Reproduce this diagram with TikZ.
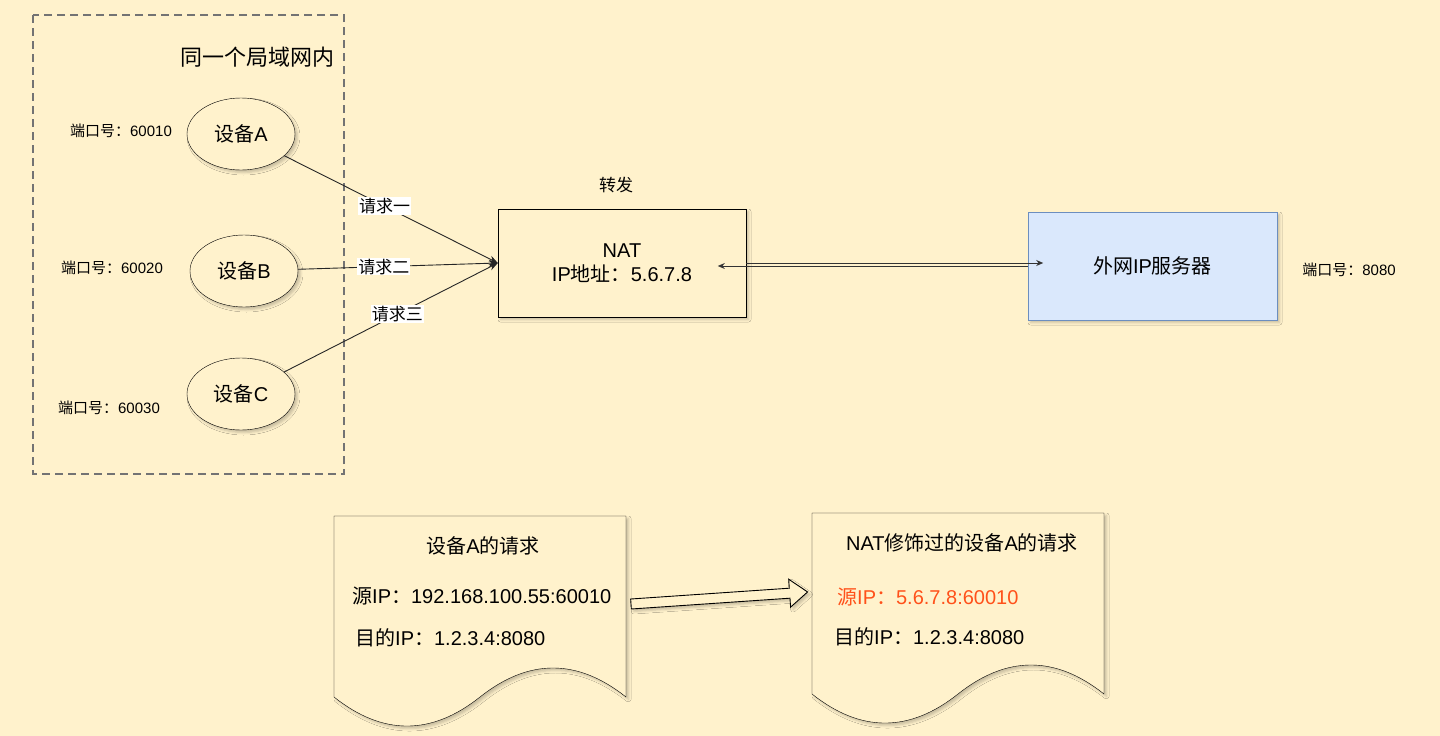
\documentclass[tikz,border=0pt]{standalone}
\usepackage{fontspec}
\setmainfont{Liberation Sans}
\newfontfamily\cjk{Noto Sans CJK SC}
\usetikzlibrary{shapes.geometric,arrows.meta,shadows.blur}
\definecolor{bgyellow}{RGB}{255,242,204}
\definecolor{srvfill}{RGB}{218,232,252}
\definecolor{srvline}{RGB}{108,142,191}
\definecolor{srcred}{RGB}{255,81,26}
\tikzset{
  shd/.style={blur shadow={shadow xshift=2.5pt,shadow yshift=-2.5pt,shadow blur radius=2.5pt,shadow opacity=22}},
  dev/.style={ellipse,draw,fill=bgyellow,shd,minimum width=108pt,minimum height=72pt,inner sep=0pt,font=\fontsize{20}{24}\selectfont},
  port/.style={font=\fontsize{15}{18}\selectfont},
  req/.style={draw=black!85,line width=0.9pt,-{Stealth[length=9pt,width=7pt]}},
  reqlbl/.style={fill=white,inner sep=1pt,font=\fontsize{17}{20}\selectfont},
  link/.style={draw=black!80,line width=0.9pt,-{Stealth[length=7pt,width=6pt]}},
  natbox/.style={draw,fill=bgyellow,shd,minimum width=248pt,minimum height=108pt,align=center,font=\fontsize{20}{24}\selectfont},
  srvbox/.style={draw=srvline,fill=srvfill,shd,minimum width=249pt,minimum height=108pt,font=\fontsize{20}{24}\selectfont},
  doctxt/.style={inner sep=0pt,font=\fontsize{20}{24}\selectfont},
  docpage/.pic={
    \draw[fill=bgyellow,shd] (0,0) -- (292,0) -- (292,181)
      .. controls (243.3,142.3) and (194.7,142.3) .. (146,181)
      .. controls (97.3,219.7) and (48.7,219.7) .. (0,181) -- cycle;
  }
}
\begin{document}
\begin{tikzpicture}[x=1pt,y=-1pt]
% 背景
\fill[bgyellow] (0,0) rectangle (1440,736);
\useasboundingbox (0,0) rectangle (1440,736);
% 局域网
\draw[black!55,line width=1.1pt,dash pattern=on 8pt off 5pt] (33,15) rectangle (344,474);
\node[font=\fontsize{22}{26}\selectfont] (lan) at (257,57) {\cjk 同一个局域网内};
% 设备
\node[dev] (devA) at (241,134) {{\cjk 设备}A};
\node[dev] (devB) at (244,271) {{\cjk 设备}B};
\node[dev] (devC) at (241,394) {{\cjk 设备}C};
\node[port] (portA) at (121,131) {{\cjk 端口号：}60010};
\node[port] (portB) at (112,268) {{\cjk 端口号：}60020};
\node[port] (portC) at (109,408) {{\cjk 端口号：}60030};
% NAT
\node[natbox] (nat) at (622,263) {NAT\\IP{\cjk 地址：}5.6.7.8};
\node[font=\fontsize{17}{20}\selectfont] (fwd) at (616,185) {\cjk 转发};
% 外网服务器
\node[srvbox] (srv) at (1152.5,266) {{\cjk 外网}IP{\cjk 服务器}};
\node[port] (portS) at (1349,270) {{\cjk 端口号：}8080};
% 请求
\draw[req] (devA) -- node[reqlbl,pos=0.47] {\cjk 请求一} (nat.west);
\draw[req] (devB) -- node[reqlbl,pos=0.43] {\cjk 请求二} (nat.west);
\draw[req] (devC) -- node[reqlbl,pos=0.53] {\cjk 请求三} (nat.west);
\draw[link] (nat.east) -- ++(297,0);
\draw[link] (srv.west) -- ++(-310,0);
% 请求报文
\pic at (334,516) {docpage};
\pic at (812,513) {docpage};
\node[doctxt] (d1t) at (483,546) {{\cjk 设备}A{\cjk 的请求}};
\node[doctxt,anchor=west] (d1s) at (352,596) {{\cjk 源}IP{\cjk ：}192.168.100.55:60010};
\node[doctxt,anchor=west] (d1d) at (355,638) {{\cjk 目的}IP{\cjk ：}1.2.3.4:8080};
\node[doctxt] (d2t) at (962,543) {NAT{\cjk 修饰过的设备}A{\cjk 的请求}};
\node[doctxt,anchor=west,text=srcred] (d2s) at (837,597) {{\cjk 源}IP{\cjk ：}5.6.7.8:60010};
\node[doctxt,anchor=west] (d2d) at (834,637) {{\cjk 目的}IP{\cjk ：}1.2.3.4:8080};
% 转换箭头
\draw[fill=bgyellow,shd,line width=0.9pt,shift={(631,604)},rotate=3.9]
  (0,5) -- (159,5) -- (159,14) -- (177,0) -- (159,-14) -- (159,-5) -- (0,-5) -- cycle;
\end{tikzpicture}
\end{document}
